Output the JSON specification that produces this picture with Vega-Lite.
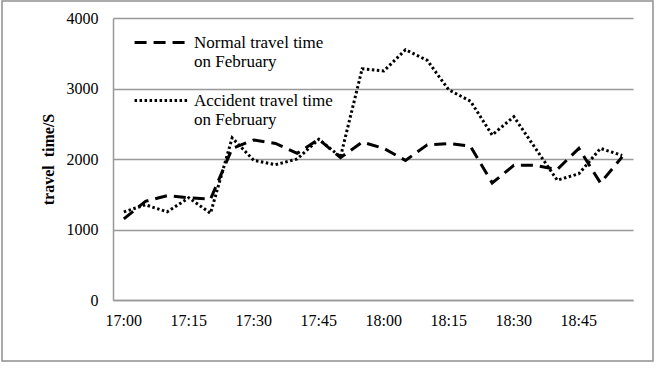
{
  "$schema": "https://vega.github.io/schema/vega-lite/v6.json",
  "width": 651,
  "height": 360,
  "autosize": "none",
  "padding": {"left": 2, "top": 1, "right": 6, "bottom": 7},
  "config": {
    "view": {"stroke": "#8f8f8f", "strokeWidth": 1.5},
    "font": "Liberation Serif",
    "axis": {"labelFont": "Liberation Serif", "titleFont": "Liberation Serif"},
    "legend": {"labelFont": "Liberation Serif"}
  },
  "data": {
    "values": [
      {"time": "17:00", "series": "Normal travel time|on February", "value": 1150},
      {"time": "17:05", "series": "Normal travel time|on February", "value": 1400},
      {"time": "17:10", "series": "Normal travel time|on February", "value": 1480},
      {"time": "17:15", "series": "Normal travel time|on February", "value": 1450},
      {"time": "17:20", "series": "Normal travel time|on February", "value": 1430},
      {"time": "17:25", "series": "Normal travel time|on February", "value": 2150},
      {"time": "17:30", "series": "Normal travel time|on February", "value": 2270},
      {"time": "17:35", "series": "Normal travel time|on February", "value": 2220},
      {"time": "17:40", "series": "Normal travel time|on February", "value": 2080},
      {"time": "17:45", "series": "Normal travel time|on February", "value": 2280},
      {"time": "17:50", "series": "Normal travel time|on February", "value": 2020},
      {"time": "17:55", "series": "Normal travel time|on February", "value": 2240},
      {"time": "18:00", "series": "Normal travel time|on February", "value": 2150},
      {"time": "18:05", "series": "Normal travel time|on February", "value": 1980},
      {"time": "18:10", "series": "Normal travel time|on February", "value": 2200},
      {"time": "18:15", "series": "Normal travel time|on February", "value": 2220},
      {"time": "18:20", "series": "Normal travel time|on February", "value": 2180},
      {"time": "18:25", "series": "Normal travel time|on February", "value": 1660},
      {"time": "18:30", "series": "Normal travel time|on February", "value": 1910},
      {"time": "18:35", "series": "Normal travel time|on February", "value": 1910},
      {"time": "18:40", "series": "Normal travel time|on February", "value": 1850},
      {"time": "18:45", "series": "Normal travel time|on February", "value": 2150},
      {"time": "18:50", "series": "Normal travel time|on February", "value": 1660},
      {"time": "18:55", "series": "Normal travel time|on February", "value": 2030},
      {"time": "17:00", "series": "Accident travel time|on February", "value": 1250},
      {"time": "17:05", "series": "Accident travel time|on February", "value": 1350},
      {"time": "17:10", "series": "Accident travel time|on February", "value": 1250},
      {"time": "17:15", "series": "Accident travel time|on February", "value": 1450},
      {"time": "17:20", "series": "Accident travel time|on February", "value": 1230},
      {"time": "17:25", "series": "Accident travel time|on February", "value": 2300},
      {"time": "17:30", "series": "Accident travel time|on February", "value": 1980},
      {"time": "17:35", "series": "Accident travel time|on February", "value": 1920},
      {"time": "17:40", "series": "Accident travel time|on February", "value": 2000},
      {"time": "17:45", "series": "Accident travel time|on February", "value": 2280},
      {"time": "17:50", "series": "Accident travel time|on February", "value": 2030},
      {"time": "17:55", "series": "Accident travel time|on February", "value": 3280},
      {"time": "18:00", "series": "Accident travel time|on February", "value": 3250},
      {"time": "18:05", "series": "Accident travel time|on February", "value": 3550},
      {"time": "18:10", "series": "Accident travel time|on February", "value": 3400},
      {"time": "18:15", "series": "Accident travel time|on February", "value": 2980},
      {"time": "18:20", "series": "Accident travel time|on February", "value": 2820},
      {"time": "18:25", "series": "Accident travel time|on February", "value": 2340},
      {"time": "18:30", "series": "Accident travel time|on February", "value": 2600},
      {"time": "18:35", "series": "Accident travel time|on February", "value": 2150},
      {"time": "18:40", "series": "Accident travel time|on February", "value": 1700},
      {"time": "18:45", "series": "Accident travel time|on February", "value": 1790},
      {"time": "18:50", "series": "Accident travel time|on February", "value": 2150},
      {"time": "18:55", "series": "Accident travel time|on February", "value": 2050}
    ]
  },
  "mark": {"type": "line", "color": "black", "strokeWidth": 3, "strokeCap": "butt"},
  "encoding": {
    "x": {
      "field": "time",
      "type": "ordinal",
      "sort": null,
      "scale": {"type": "band", "range": [111, 631], "paddingInner": 0, "paddingOuter": 0},
      "axis": {
        "values": ["17:00", "17:15", "17:30", "17:45", "18:00", "18:15", "18:30", "18:45"],
        "labelAngle": 0,
        "offset": -61,
        "domainColor": "#999",
        "domainWidth": 1.5,
        "ticks": false,
        "grid": false,
        "labelPadding": 12,
        "labelFont": "Liberation Serif",
        "labelFontSize": 16,
        "labelColor": "black",
        "title": null
      }
    },
    "y": {
      "field": "value",
      "type": "quantitative",
      "scale": {"domain": [0, 4000], "range": [299, 17]},
      "axis": {
        "values": [0, 1000, 2000, 3000, 4000],
        "format": "d",
        "offset": -111,
        "grid": true,
        "gridColor": "#999",
        "gridWidth": 1.5,
        "domainColor": "#999",
        "domainWidth": 1.5,
        "ticks": false,
        "labelPadding": 15,
        "labelFont": "Liberation Serif",
        "labelFontSize": 16,
        "labelColor": "black",
        "title": "travel\u00a0 time/S",
        "titleFont": "Liberation Serif",
        "titleFontWeight": "bold",
        "titleFontSize": 16,
        "titleColor": "black",
        "titlePadding": 10
      }
    },
    "strokeDash": {
      "field": "series",
      "type": "nominal",
      "scale": {
        "domain": ["Normal travel time|on February", "Accident travel time|on February"],
        "range": [[12, 7], [2.5, 2.5]]
      },
      "legend": {
        "orient": "none",
        "legendX": 131,
        "legendY": 13,
        "title": null,
        "padding": 0,
        "symbolType": "stroke",
        "symbolSize": 2900,
        "symbolStrokeWidth": 3,
        "symbolStrokeColor": "black",
        "labelFont": "Liberation Serif",
        "labelFontSize": 17,
        "labelColor": "black",
        "labelLimit": 0,
        "labelOffset": 4,
        "rowPadding": 2,
        "labelExpr": "split(datum.label, '|')"
      }
    }
  }
}
